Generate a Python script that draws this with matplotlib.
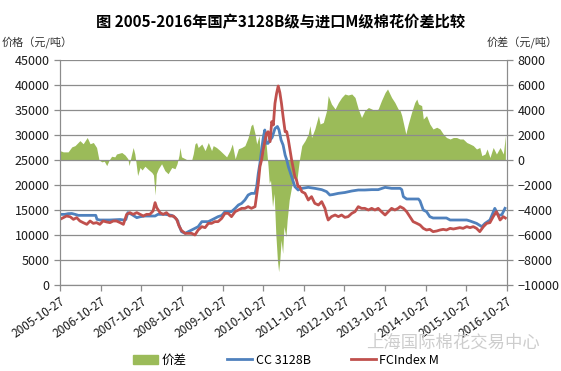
import numpy as np
import matplotlib
matplotlib.use("Agg")
import matplotlib.pyplot as plt
from matplotlib.patches import Patch
from matplotlib.lines import Line2D

plt.rcParams['font.family'] = ['Noto Sans CJK SC', 'DejaVu Sans']

# price gap (CC 3128B - FCIndex M), yuan/ton, decimal years
diff_t = [2005.82, 2005.90, 2006.02, 2006.11, 2006.19, 2006.31, 2006.39, 2006.49, 2006.56, 2006.64,
          2006.72, 2006.78, 2006.85, 2006.91, 2006.97, 2007.03, 2007.09, 2007.17, 2007.21, 2007.34,
          2007.42, 2007.49, 2007.52, 2007.57, 2007.62, 2007.66, 2007.69, 2007.73, 2007.79, 2007.84,
          2007.91, 2007.99, 2008.08, 2008.12, 2008.16, 2008.19, 2008.24, 2008.32, 2008.40, 2008.48,
          2008.57, 2008.65, 2008.70, 2008.75, 2008.77, 2008.81, 2008.90, 2008.98, 2009.06, 2009.10,
          2009.14, 2009.18, 2009.22, 2009.31, 2009.39, 2009.47, 2009.55, 2009.59, 2009.67, 2009.76,
          2009.84, 2009.92, 2010.00, 2010.06, 2010.13, 2010.21, 2010.29, 2010.37, 2010.45, 2010.52,
          2010.56, 2010.62, 2010.66, 2010.72, 2010.75, 2010.80, 2010.83, 2010.86, 2010.94, 2010.97,
          2011.00, 2011.05, 2011.09, 2011.13, 2011.17, 2011.20, 2011.23, 2011.26, 2011.30, 2011.33,
          2011.38, 2011.41, 2011.46, 2011.52, 2011.58, 2011.64, 2011.69, 2011.72, 2011.77, 2011.85,
          2011.93, 2011.97, 2012.01, 2012.09, 2012.18, 2012.22, 2012.30, 2012.38, 2012.42, 2012.50,
          2012.59, 2012.67, 2012.75, 2012.83, 2012.91, 2013.00, 2013.08, 2013.16, 2013.24, 2013.32,
          2013.41, 2013.49, 2013.57, 2013.65, 2013.73, 2013.82, 2013.88, 2013.98, 2014.06, 2014.14,
          2014.19, 2014.23, 2014.33, 2014.39, 2014.47, 2014.55, 2014.60, 2014.64, 2014.72, 2014.76,
          2014.84, 2014.92, 2015.00, 2015.09, 2015.17, 2015.25, 2015.33, 2015.42, 2015.50, 2015.58,
          2015.66, 2015.74, 2015.83, 2015.91, 2015.99, 2016.07, 2016.15, 2016.20, 2016.28, 2016.33,
          2016.40, 2016.48, 2016.56, 2016.65, 2016.73, 2016.78]
diff_v = [750, 650, 650, 1050, 1150, 1550, 1300, 1800, 1300, 1400,
          1000, 0, -150, -100, -450, 0, 300, 250, 480, 600,
          400, 100, -450, 300, 1000, 500, -200, -1250, -600, -800,
          -500, -750, -1000, -1200, -2800, -1100, -700, -300, -850, -1100,
          -600, -700, -300, 400, 1000, 250, 100, -50, 0, 500,
          1280, 1400, 1000, 1280, 750, 1400, 750, 1150, 1000, 750,
          500, 250, 750, 1280, 100, 900, 1000, 1150, 1800, 2750,
          2880, 2080, 1280, 1950, 300, 2200, 600, 2500, -500, -1870,
          -1600, -3730, -2670, -5870, -8000, -8930, -8000, -6400, -7470, -5330,
          -6130, -4800, -3200, -2130, -1330, -1870, -530, 200, 1150, 1550,
          2080, 2750, 1800, 2480, 3550, 2880, 3000, 3950, 5150, 4480,
          4080, 4600, 5000, 5280, 5200, 5280, 5000, 4080, 3400, 3950,
          4200, 4080, 3950, 4080, 4750, 5400, 5680, 5000, 4600, 4080,
          3950, 3550, 2080, 2880, 3800, 4600, 4880, 4480, 4350, 3280,
          3550, 2880, 2480, 2620, 2480, 2080, 1800, 1680, 1800, 1800,
          1680, 1680, 1400, 1280, 1150, 880, 1000, 350, 480, 880,
          200, 1000, 480, 1000, 480, 1950]

# CC 3128B price
cc_t = [2005.82, 2005.94, 2006.02, 2006.11, 2006.19, 2006.27, 2006.51, 2006.70, 2006.73, 2006.80,
        2007.05, 2007.30, 2007.39, 2007.44, 2007.49, 2007.58, 2007.71, 2007.79, 2007.91, 2008.16,
        2008.23, 2008.40, 2008.57, 2008.65, 2008.72, 2008.73, 2008.81, 2008.90, 2008.98, 2009.06,
        2009.14, 2009.22, 2009.31, 2009.47, 2009.55, 2009.63, 2009.71, 2009.80, 2009.88, 2010.04,
        2010.13, 2010.21, 2010.29, 2010.37, 2010.45, 2010.53, 2010.62, 2010.66, 2010.70, 2010.74,
        2010.78, 2010.82, 2010.86, 2010.90, 2010.94, 2010.99, 2011.04, 2011.11, 2011.17, 2011.21,
        2011.26, 2011.31, 2011.36, 2011.40, 2011.44, 2011.52, 2011.60, 2011.68, 2011.77, 2011.93,
        2012.09, 2012.26, 2012.38, 2012.46, 2012.54, 2012.67, 2012.83, 2013.00, 2013.16, 2013.32,
        2013.49, 2013.65, 2013.82, 2013.98, 2014.14, 2014.19, 2014.23, 2014.27, 2014.35, 2014.64,
        2014.68, 2014.76, 2014.84, 2014.92, 2015.00, 2015.33, 2015.42, 2015.83, 2015.91, 2016.07,
        2016.20, 2016.28, 2016.40, 2016.52, 2016.60, 2016.69, 2016.77]
cc_v = [14130, 14130, 14270, 14300, 14130, 13930, 13930, 13930, 13130, 13000,
        13000, 13100, 13000, 13100, 14470, 14130, 13470, 13650, 13800, 13800,
        14130, 14130, 13930, 13500, 12800, 12330, 10670, 10330, 10670, 11000,
        11330, 11670, 12670, 12670, 13000, 13330, 13670, 13900, 14670, 14670,
        15330, 16000, 16330, 17000, 18000, 18330, 18330, 19670, 22330, 24330,
        27000, 29330, 31000, 28330, 28330, 29000, 29500, 31300, 31700, 31000,
        29000, 28000, 26000, 25000, 23670, 21670, 19670, 19000, 19330, 19530,
        19330, 19070, 18670, 18000, 18100, 18330, 18500, 18800, 19000, 19000,
        19070, 19070, 19530, 19330, 19330, 19330, 19070, 17670, 17200, 17200,
        16800, 15000, 14670, 13670, 13400, 13400, 13000, 13000, 12800, 12330,
        11670, 12330, 13000, 15330, 14000, 14000, 15330]

# FCIndex M price
fc_t = [2005.82, 2005.90, 2005.98, 2006.07, 2006.15, 2006.23, 2006.31, 2006.39, 2006.48, 2006.56,
        2006.64, 2006.72, 2006.80, 2006.88, 2006.97, 2007.05, 2007.13, 2007.21, 2007.30, 2007.38,
        2007.46, 2007.54, 2007.62, 2007.71, 2007.79, 2007.87, 2007.95, 2008.03, 2008.11, 2008.16,
        2008.20, 2008.28, 2008.36, 2008.44, 2008.52, 2008.61, 2008.69, 2008.75, 2008.81, 2008.90,
        2008.98, 2009.06, 2009.14, 2009.22, 2009.31, 2009.39, 2009.47, 2009.55, 2009.63, 2009.71,
        2009.80, 2009.88, 2009.96, 2010.04, 2010.13, 2010.21, 2010.29, 2010.37, 2010.45, 2010.53,
        2010.62, 2010.66, 2010.70, 2010.74, 2010.78, 2010.82, 2010.90, 2010.94, 2010.99, 2011.03,
        2011.07, 2011.11, 2011.15, 2011.19, 2011.23, 2011.27, 2011.31, 2011.36, 2011.40, 2011.44,
        2011.52, 2011.60, 2011.64, 2011.68, 2011.72, 2011.77, 2011.85, 2011.93, 2012.01, 2012.09,
        2012.18, 2012.26, 2012.34, 2012.38, 2012.42, 2012.50, 2012.59, 2012.67, 2012.75, 2012.83,
        2012.91, 2013.00, 2013.08, 2013.16, 2013.24, 2013.32, 2013.41, 2013.49, 2013.57, 2013.65,
        2013.73, 2013.82, 2013.90, 2013.98, 2014.06, 2014.14, 2014.19, 2014.27, 2014.35, 2014.43,
        2014.51, 2014.60, 2014.68, 2014.76, 2014.84, 2014.92, 2015.00, 2015.09, 2015.17, 2015.25,
        2015.33, 2015.42, 2015.50, 2015.58, 2015.66, 2015.74, 2015.83, 2015.91, 2015.99, 2016.07,
        2016.15, 2016.24, 2016.32, 2016.40, 2016.48, 2016.56, 2016.65, 2016.73, 2016.78]
fc_v = [13130, 13470, 13800, 13650, 13130, 13470, 12800, 12470, 12130, 12800,
        12330, 12470, 12130, 12800, 12600, 12470, 12800, 12800, 12470, 12130,
        14130, 14470, 14130, 14470, 14130, 13800, 14130, 14130, 14800, 16470,
        15470, 14470, 14130, 14470, 13800, 13800, 13130, 11800, 10900, 10330,
        10330, 10330, 10000, 11000, 11670, 11470, 12330, 12330, 12670, 12670,
        13330, 14330, 14330, 13670, 14670, 15000, 15330, 15330, 15670, 15330,
        15670, 18000, 20330, 23670, 25000, 27000, 30330, 30660, 28670, 32670,
        32000, 36330, 38330, 39800, 38500, 36330, 33670, 30660, 30660, 29000,
        25000, 21660, 21000, 19670, 19660, 18670, 18330, 17000, 17670, 16330,
        16000, 16670, 15330, 14000, 13000, 13670, 14000, 13670, 14000, 13530,
        13670, 14330, 14670, 15670, 15330, 15330, 15000, 15330, 15000, 15330,
        14670, 14000, 14670, 15330, 15000, 15330, 15670, 15330, 14670, 13670,
        12670, 12330, 12000, 11330, 11000, 11130, 10670, 10800, 11000, 11130,
        11000, 11330, 11200, 11330, 11470, 11330, 11670, 11470, 11670, 11330,
        10670, 11670, 12330, 12470, 13670, 14670, 13000, 13670, 13400]

tick_years = [2005.82 + k for k in range(12)]
tick_labels = ['%d-10-27' % y for y in range(2005, 2017)]

GREEN = '#9BBB59'
BLUE = '#4F81BD'
RED = '#C0504D'
GRID = '#8C8C8C'

fig = plt.figure(figsize=(5.61, 3.71), dpi=100)
ax = fig.add_axes([60 / 561, 1 - 285 / 371, 447 / 561, 225 / 371])
ax2 = ax.twinx()

# gap area on the secondary axis, drawn beneath the price lines
ax2.fill_between(diff_t, diff_v, 0, color=GREEN, linewidth=0)
ax2.set_ylim(-10000, 8000)
ax2.set_yticks(np.arange(-10000, 8001, 2000))

ax.set_zorder(ax2.get_zorder() + 1)
ax.patch.set_visible(False)
ax.plot(cc_t, cc_v, color=BLUE, lw=2)
ax.plot(fc_t, fc_v, color=RED, lw=2)
ax.set_ylim(0, 45000)
ax.set_yticks(np.arange(0, 45001, 5000))
ax.set_xlim(tick_years[0], tick_years[-1])
ax.set_xticks(tick_years)
ax.set_xticklabels(tick_labels, rotation=35, ha='right', rotation_mode='anchor')
ax.grid(axis='y', color=GRID, lw=0.9)
ax.set_axisbelow(True)

for a in (ax, ax2):
    a.spines['top'].set_visible(False)
    for side in ('left', 'right', 'bottom'):
        a.spines[side].set_color(GRID)
    a.tick_params(colors=GRID, labelcolor='#1a1a1a', labelsize=9, length=4, width=0.9)
ax.tick_params(axis='x', labelsize=8.5, pad=3)

fig.text(0.5, 1 - 22 / 371, '图 2005-2016年国产3128B级与进口M级棉花价差比较',
         ha='center', va='center', fontsize=11, fontweight='bold')
fig.text(2 / 561, 1 - 43 / 371, '价格（元/吨）', ha='left', va='center', fontsize=8, color='#333333')
fig.text(558 / 561, 1 - 43 / 371, '价差（元/吨）', ha='right', va='center', fontsize=8, color='#333333')

# faint watermark, sits just above the legend row
fig.text(453 / 561, 1 - 343 / 371, '上海国际棉花交易中心', ha='center', va='center',
         fontsize=12.5, color='#cdcdcd')

handles = [Patch(color=GREEN), Line2D([], [], color=BLUE, lw=2), Line2D([], [], color=RED, lw=2)]
fig.legend(handles, ['价差', 'CC 3128B', 'FCIndex M'], loc='center', bbox_to_anchor=(0.51, 1 - 360 / 371),
           ncol=3, frameon=False, fontsize=9, handlelength=2, handletextpad=0.3, columnspacing=3.2)

fig.savefig('out.png', dpi=100)
